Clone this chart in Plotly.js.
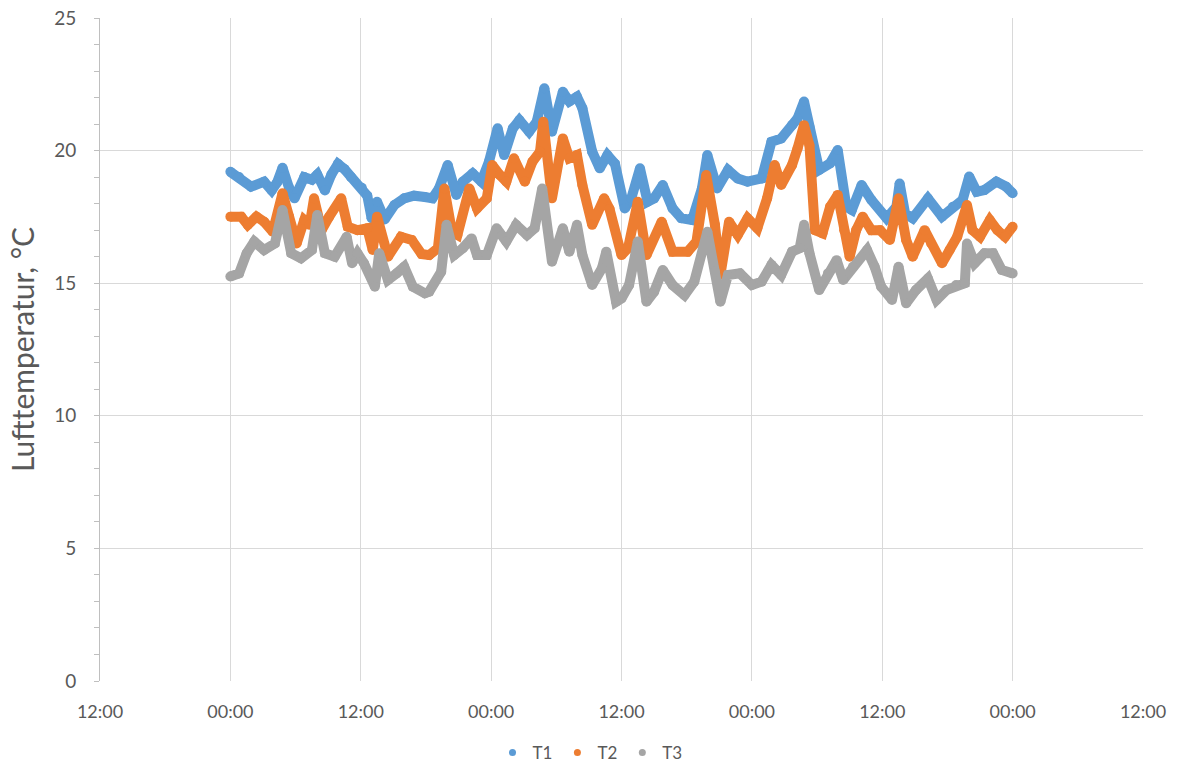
<!DOCTYPE html>
<html>
<head>
<meta charset="utf-8">
<script src="https://cdn.plot.ly/plotly-3.0.1.min.js"></script>
<style>html,body{margin:0;padding:0;background:#fff;}#chart{width:1180px;height:766px;}</style>
</head>
<body>
<div id="chart"></div>
<script>
// Time in hours after the first midnight
const t1Hours = [0.0,0.8,1.9,3.1,3.8,4.3,4.8,5.4,5.9,6.8,7.5,8.0,8.7,9.3,9.9,10.5,11.1,12.1,12.6,13.0,13.5,14.2,15.1,16.0,16.9,17.9,18.6,19.2,20.0,20.8,21.4,22.3,23.1,23.8,24.6,25.2,26.0,26.6,27.5,28.2,28.9,29.6,30.6,31.2,31.9,32.4,33.3,34.0,34.7,35.4,36.3,36.9,37.7,38.4,39.0,39.8,40.7,41.5,42.5,43.4,43.9,44.8,45.8,46.7,47.6,48.9,49.8,50.7,51.7,52.2,52.8,53.3,54.2,55.2,55.9,56.7,57.2,58.1,59.0,60.4,61.3,61.6,62.1,62.8,64.2,65.5,66.5,67.4,68.0,68.7,69.4,70.5,71.4,72.0];
const t1Values = [19.2,19.0,18.64,18.83,18.5,18.8,19.35,18.6,18.2,19.0,18.9,19.1,18.5,19.1,19.5,19.3,19.0,18.6,18.3,17.45,18.07,17.4,17.95,18.2,18.3,18.25,18.2,18.57,19.46,18.33,18.83,19.14,18.83,19.58,20.84,19.83,20.84,21.15,20.71,21.09,22.35,20.71,22.22,21.85,22.03,21.6,19.96,19.33,19.83,19.5,17.82,18.2,19.33,18.07,18.2,18.7,17.82,17.45,17.38,18.57,19.83,18.57,19.27,18.95,18.83,18.95,20.33,20.46,20.96,21.21,21.85,20.9,19.27,19.52,20.02,17.88,17.76,18.7,18.14,17.45,17.88,18.76,17.63,17.45,18.2,17.51,17.88,18.14,19.02,18.45,18.51,18.83,18.64,18.39];

const t2Hours = [0.0,1.0,1.6,2.4,3.1,3.9,4.8,5.4,6.1,6.8,7.3,7.7,8.4,9.1,10.2,10.8,11.7,12.6,13.1,13.5,14.5,15.7,16.7,17.6,18.3,19.1,19.7,20.4,20.9,22.0,22.7,23.6,24.1,24.8,25.4,26.1,27.1,27.8,28.5,28.8,29.6,30.6,31.2,31.9,32.4,33.3,34.4,34.9,36.0,36.6,37.5,38.3,39.7,40.7,42.1,42.9,43.8,44.6,45.1,45.9,46.7,47.6,48.5,49.4,50.1,50.7,51.7,52.2,52.8,53.3,53.8,54.5,55.2,55.9,56.5,57.0,57.6,58.2,59.0,59.8,60.7,61.5,62.2,62.8,63.9,64.5,65.5,66.2,66.9,67.8,68.3,69.0,69.9,70.6,71.3,72.0];
const t2Values = [17.51,17.51,17.2,17.51,17.32,16.94,18.39,17.51,16.5,17.38,17.2,18.2,17.0,17.51,18.2,17.13,17.0,17.07,16.25,17.51,16.0,16.75,16.63,16.1,16.06,16.32,18.57,16.94,16.82,18.57,17.82,18.2,19.46,19.08,18.83,19.71,18.83,19.58,19.96,21.09,18.2,20.46,19.71,19.83,18.7,17.2,18.2,17.8,16.06,16.32,18.07,16.06,17.32,16.19,16.19,16.57,19.08,17.2,15.31,17.32,16.82,17.45,17.07,18.2,19.46,18.7,19.46,20.08,20.96,20.2,17.0,16.88,17.88,18.33,17.0,16.0,17.0,17.51,17.0,17.0,16.63,18.2,16.63,16.0,17.0,16.5,15.75,16.25,16.75,17.95,17.0,16.75,17.38,17.0,16.75,17.13];

const t3Hours = [0.0,0.8,1.5,2.2,3.1,4.1,4.8,5.6,6.5,7.5,8.0,8.7,9.6,10.7,11.2,11.7,12.3,13.3,13.7,14.5,15.3,16.0,16.8,17.9,18.3,19.4,19.9,20.6,21.4,22.2,22.7,23.6,24.5,25.4,26.3,27.3,28.0,28.7,29.6,30.6,31.2,31.9,32.4,33.3,34.2,34.6,35.5,36.0,36.7,37.5,38.3,39.0,39.8,40.7,41.8,42.7,43.9,44.6,45.1,45.8,46.9,48.0,48.9,49.8,50.7,51.7,52.4,52.8,53.3,54.2,55.0,55.8,56.4,57.3,58.6,59.3,59.9,60.9,61.5,62.2,63.1,64.2,65.0,65.9,66.8,67.6,67.8,68.5,69.4,70.2,71.0,72.0];
const t3Values = [15.25,15.37,16.13,16.57,16.25,16.5,17.76,16.13,15.94,16.25,17.57,16.13,16.0,16.75,15.75,16.13,15.75,14.87,16.13,15.12,15.37,15.62,14.87,14.62,14.68,15.43,17.2,16.06,16.32,16.69,16.06,16.06,17.07,16.57,17.2,16.82,17.07,18.57,15.81,17.07,16.19,17.2,16.06,14.93,15.56,16.19,14.3,14.43,14.93,16.57,14.3,14.68,15.5,14.93,14.55,15.06,16.94,15.43,14.3,15.31,15.37,14.93,15.06,15.69,15.31,16.19,16.32,17.2,16.13,14.74,15.37,15.87,15.12,15.62,16.25,15.62,14.87,14.37,15.62,14.24,14.74,15.18,14.37,14.74,14.93,15.0,16.5,15.75,16.13,16.13,15.5,15.37];

const seriesNames = ['T1','T2','T3'];
const seriesColors = ['#5b9bd5','#ed7d31','#a5a5a5'];
const yTitle = 'Lufttemperatur, °C';

const startMs = Date.UTC(2020,0,2,0,0,0);
function iso(ms){ return new Date(ms).toISOString().replace('Z',''); }
function toDates(hours){ return hours.map(h => iso(startMs + h*3600000)); }
const allHours = [t1Hours,t2Hours,t3Hours];
const allValues = [t1Values,t2Values,t3Values];

const traces = [];
for (let i=0;i<3;i++){
  traces.push({
    type:'scatter', mode:'lines+markers', x:toDates(allHours[i]), y:allValues[i],
    line:{color:seriesColors[i], width:10, shape:'linear'},
    marker:{color:seriesColors[i], size:10},
    showlegend:false, hoverinfo:'skip'
  });
}
for (let i=0;i<3;i++){
  traces.push({
    type:'scatter', mode:'markers', x:[null], y:[null], name:seriesNames[i],
    marker:{color:seriesColors[i], size:7}
  });
}

const fam = 'Lato, Open Sans, sans-serif';
const layout = {
  width:1180, height:766,
  margin:{l:100, r:37, t:18, b:85},
  paper_bgcolor:'#fff', plot_bgcolor:'#fff',
  font:{family:fam, color:'#595959'},
  showlegend:true,
  legend:{orientation:'h', xref:'container', yref:'container', x:0.5, xanchor:'center', y:0.017, yanchor:'middle',
          font:{family:fam, size:17, color:'#595959'}, itemwidth:30, tracegroupgap:0},
  xaxis:{
    type:'date',
    range:[iso(startMs-12*3600000), iso(startMs+84*3600000)],
    dtick:12*3600000, tick0:iso(startMs-12*3600000),
    tickformat:'%H:%M', showgrid:true, gridcolor:'#d9d9d9', gridwidth:1,
    showline:false, zeroline:false, ticks:'', ticklabelstandoff:18,
    tickfont:{family:fam, size:18, color:'#595959'}
  },
  yaxis:{
    range:[0,25], dtick:5, tick0:0, showgrid:true, gridcolor:'#d9d9d9', gridwidth:1,
    showline:true, linecolor:'#bfbfbf', linewidth:1, zeroline:false,
    ticks:'outside', ticklen:5, tickcolor:'#bfbfbf', ticklabelstandoff:14,
    minor:{dtick:1, ticks:'outside', ticklen:5, tickcolor:'#bfbfbf', showgrid:false},
    tickfont:{family:fam, size:19, color:'#595959'},
    title:{text:yTitle, font:{family:fam, size:30, color:'#595959'}, standoff:10}
  }
};
Plotly.newPlot('chart', traces, layout, {displayModeBar:false, staticPlot:true});
</script>
</body>
</html>
